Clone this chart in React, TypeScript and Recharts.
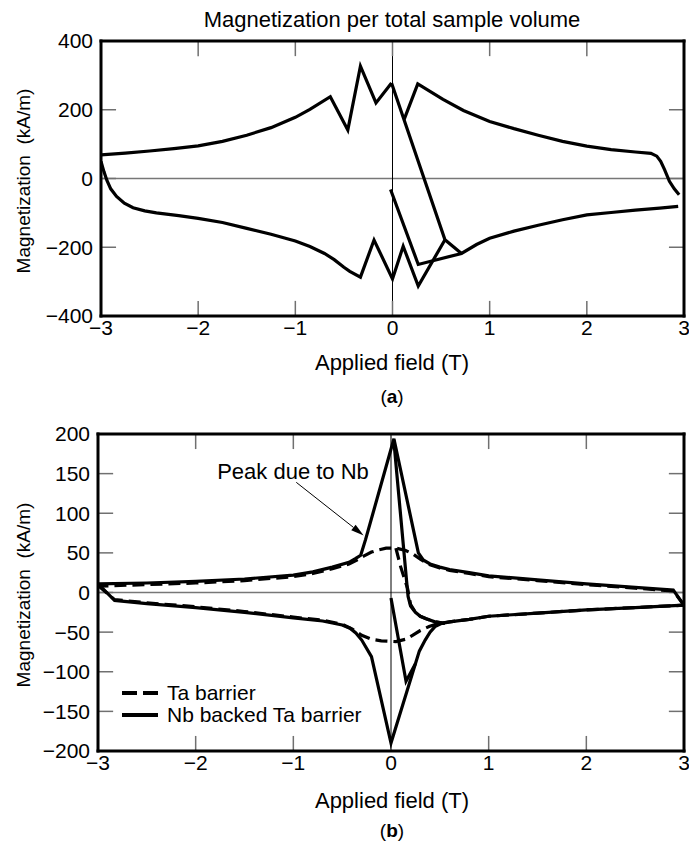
import React from "react";
import { LineChart, Line, XAxis, YAxis, ReferenceLine } from "recharts";

type Pt = [number, number];

const FONT = "'Liberation Sans', Arial, Helvetica, sans-serif";

const fieldTicks = [-3, -2, -1, 0, 1, 2, 3];
const magTicksA = [-400, -200, 0, 200, 400];
const magTicksB = [-200, -150, -100, -50, 0, 50, 100, 150, 200];

// (a) magnetization per total sample volume, one loop cut into pieces
const aUpperRight: Pt[] = [
  [2.95, -47], [2.9, -30], [2.85, -8], [2.8, 26], [2.76, 50], [2.72, 65], [2.66, 73],
  [2.5, 77], [2.25, 84], [2.0, 94], [1.75, 108], [1.5, 126], [1.25, 145], [1.0, 166],
  [0.73, 198], [0.52, 230], [0.26, 275], [0.12, 172],
];
const aUpperLeft: Pt[] = [
  [-0.01, 278], [-0.17, 220], [-0.33, 327], [-0.46, 141], [-0.64, 238], [-0.85, 201],
  [-1.0, 178], [-1.25, 148], [-1.5, 126], [-1.75, 108], [-2.0, 95], [-2.25, 87],
  [-2.5, 80], [-2.75, 74], [-3.0, 69],
];
const aSteep: Pt[] = [[-0.01, 278], [0.54, -178], [0.71, -218]];
const aLowerLeft: Pt[] = [
  [-3.0, 50], [-2.97, 20], [-2.94, -5], [-2.9, -30], [-2.84, -52], [-2.76, -72],
  [-2.67, -85], [-2.55, -94], [-2.43, -100], [-2.2, -108], [-2.0, -116], [-1.75, -128],
  [-1.5, -145], [-1.25, -162], [-1.0, -182], [-0.85, -198], [-0.7, -218], [-0.6, -236],
  [-0.5, -258], [-0.44, -270], [-0.33, -287], [-0.19, -179], [0.0, -292], [0.11, -197],
  [0.265, -313], [0.54, -178],
];
const aVirgin: Pt[] = [
  [-0.02, -32], [0.265, -250], [0.71, -218], [0.865, -192], [1.0, -174], [1.25, -153],
  [1.5, -136], [1.75, -120], [2.0, -106], [2.25, -99], [2.5, -92], [2.75, -86], [2.94, -81],
];

// (b) Ta barrier vs Nb backed Ta barrier
const bTaUpper: Pt[] = [
  [3.0, -16], [2.89, 2], [2.5, 5.5], [2.0, 10], [1.5, 15], [1.0, 20], [0.8, 24], [0.6, 28],
  [0.5, 31], [0.4, 35], [0.3, 42], [0.22, 49], [0.15, 53], [0.05, 56], [-0.05, 56],
  [-0.12, 54], [-0.2, 51], [-0.28, 46], [-0.35, 41], [-0.43, 36], [-0.6, 30], [-0.8, 24],
  [-1.0, 20], [-1.5, 15], [-2.0, 12], [-2.5, 10], [-3.0, 8],
];
const bTaInner: Pt[] = [
  [0.05, 56], [0.1, 32], [0.17, 5], [0.2, -15], [0.25, -25], [0.3, -30], [0.36, -33],
  [0.45, -37], [0.55, -39],
];
const bTaLower: Pt[] = [
  [-3.0, 9], [-2.83, -9], [-2.5, -13], [-2.0, -18], [-1.5, -24], [-1.0, -31], [-0.7, -35],
  [-0.5, -40], [-0.4, -46], [-0.3, -54], [-0.2, -59], [-0.1, -61], [0.05, -62], [0.15, -59],
  [0.22, -54], [0.3, -48], [0.39, -43], [0.49, -39], [0.6, -37], [0.8, -34], [1.0, -30],
  [1.5, -26], [2.0, -22], [2.5, -19], [3.0, -16],
];
const bNbUpper: Pt[] = [
  [3.0, -16], [2.89, 3], [2.5, 6.5], [2.0, 11], [1.5, 16], [1.0, 21], [0.8, 25], [0.6, 29],
  [0.5, 32], [0.4, 36], [0.33, 41], [0.28, 50], [0.03, 194], [-0.26, 67], [-0.31, 47],
  [-0.36, 43], [-0.43, 38], [-0.6, 32], [-0.8, 26], [-1.0, 22], [-1.5, 17], [-2.0, 14],
  [-2.5, 12], [-3.0, 11],
];
const bNbLower: Pt[] = [
  [-3.0, 11], [-2.83, -10], [-2.5, -14], [-2.0, -19], [-1.5, -25], [-1.0, -32], [-0.7, -36],
  [-0.5, -41], [-0.42, -45], [-0.36, -51], [-0.3, -60], [-0.2, -81], [0.0, -190], [0.29, -74],
  [0.35, -60], [0.4, -50], [0.45, -43], [0.52, -39], [0.6, -37], [0.8, -34], [1.0, -30],
  [1.5, -26], [2.0, -22], [2.5, -19], [3.0, -16],
];
const bNbInner: Pt[] = [
  [0.03, 190], [0.16, 14], [0.175, -5], [0.2, -17], [0.25, -25], [0.3, -30], [0.36, -33],
  [0.45, -37], [0.55, -39],
];
const bNbVirgin: Pt[] = [[0.0, -7], [0.154, -112], [0.25, -90]];

const peakArrow: Pt[] = [[-0.97, 139], [-0.28, 72]];
const legendNames = ["Ta barrier", "Nb backed Ta barrier"];
const legendDash = ["15 6", undefined];

const rows = (pts: Pt[]) => pts.map(([x, y]) => ({ x, y }));
const fmt = (v: number) => (v < 0 ? "\u2212" + Math.abs(v) : String(v));

const tickFont = { fill: "#000", fontSize: 21, fontFamily: FONT };
const frameLine = { stroke: "#000", strokeWidth: 3, strokeLinecap: "square" as const };

// custom shape: the default segment renderer drew nothing here
const tickShape = (p: any) => (
  <line x1={p.x1} y1={p.y1} x2={p.x2} y2={p.y2} stroke="#707070" strokeWidth={1.5} />
);

// inward tick marks on all four sides, as short reference segments in data units
function tickMarks(yTicks: number[], yDomain: [number, number], lenX: number, lenY: number) {
  const [y0, y1] = yDomain;
  const segs: { x: number; y: number }[][] = [];
  fieldTicks.slice(1, -1).forEach((x) => {
    segs.push([{ x, y: y0 }, { x, y: y0 + lenY }]);
    segs.push([{ x, y: y1 }, { x, y: y1 - lenY }]);
  });
  yTicks.slice(1, -1).forEach((y) => {
    segs.push([{ x: -3, y }, { x: -3 + lenX, y }]);
    segs.push([{ x: 3, y }, { x: 3 - lenX, y }]);
  });
  return segs.map((s, i) => (
    <ReferenceLine key={"tk" + i} xAxisId="lab" yAxisId="lab" segment={s}
      ifOverflow="visible" shape={tickShape} />
  ));
}

function frame(yTicks: number[], yDomain: [number, number], yW: number, xH: number) {
  return [
    <XAxis key="xl" xAxisId="lab" type="number" dataKey="x" domain={[-3, 3]} allowDataOverflow
      ticks={fieldTicks} interval={0} height={xH} axisLine={frameLine} tickLine={false}
      tickSize={0} tickMargin={4} tick={tickFont} tickFormatter={fmt} />,
    <XAxis key="xt" xAxisId="top" orientation="top" type="number" dataKey="x" domain={[-3, 3]}
      allowDataOverflow height={10} axisLine={frameLine} tickLine={false} tick={false} />,
    <YAxis key="yl" yAxisId="lab" type="number" domain={yDomain} allowDataOverflow ticks={yTicks}
      interval={0} width={yW} axisLine={frameLine} tickLine={false} tickSize={0}
      tickMargin={8} tick={tickFont} tickFormatter={fmt} />,
    <YAxis key="yr" yAxisId="right" orientation="right" type="number" domain={yDomain}
      allowDataOverflow width={5} axisLine={frameLine} tickLine={false} tick={false} />,
    <ReferenceLine key="h0" xAxisId="lab" yAxisId="lab" y={0} stroke="#777" strokeWidth={1.5} />,
    <ReferenceLine key="v0" xAxisId="lab" yAxisId="lab" x={0} stroke="#000" strokeWidth={1} />,
  ];
}

function curve(key: string, pts: Pt[], dash?: string, w = 3.2) {
  return (
    <Line key={key} xAxisId="lab" yAxisId="lab" data={rows(pts)} dataKey="y" type="linear"
      stroke="#000" strokeWidth={w} strokeDasharray={dash} dot={false} activeDot={false}
      isAnimationActive={false} />
  );
}

const arrowShape = (p: any) => {
  const { x1, y1, x2, y2 } = p;
  const a = Math.atan2(y2 - y1, x2 - x1);
  const L = 13;
  const W = 3.5;
  const bx = x2 - L * Math.cos(a);
  const by = y2 - L * Math.sin(a);
  const nx = -Math.sin(a) * W;
  const ny = Math.cos(a) * W;
  return (
    <g>
      <line x1={x1} y1={y1} x2={bx} y2={by} stroke="#000" strokeWidth={1} />
      <polygon points={`${x2},${y2} ${bx + nx},${by + ny} ${bx - nx},${by - ny}`} fill="#000" />
    </g>
  );
};

const abs = (s: React.CSSProperties): React.CSSProperties => ({
  position: "absolute",
  whiteSpace: "nowrap",
  color: "#000",
  fontFamily: FONT,
  lineHeight: 1,
  ...s,
});

export default function App() {
  return (
    <div style={{ position: "absolute", left: 0, top: 0, width: 689, height: 841, background: "#fff" }}>
      <div style={abs({ left: 392, top: 20, fontSize: 22, transform: "translate(-50%,-50%)" })}>
        Magnetization per total sample volume
      </div>
      <div style={{ position: "absolute", left: 0, top: 0 }}>
        <LineChart width={689} height={420} margin={{ top: 31, right: 0, bottom: 0, left: 0 }}>
          {frame(magTicksA, [-400, 400], 101, 104)}
          {tickMarks(magTicksA, [-400, 400], 0.155, 44)}
          {curve("a1", aUpperRight)}
          {curve("a2", aUpperLeft)}
          {curve("a3", aSteep)}
          {curve("a4", aLowerLeft)}
          {curve("a5", aVirgin)}
        </LineChart>
      </div>
      <div style={abs({ left: 23, top: 181, fontSize: 19, transform: "translate(-50%,-50%) rotate(-90deg)" })}>
        Magnetization&nbsp; (kA/m)
      </div>
      <div style={abs({ left: 392, top: 363, fontSize: 22, transform: "translate(-50%,-50%)" })}>
        Applied field (T)
      </div>
      <div style={abs({ left: 392, top: 396, fontSize: 19, transform: "translate(-50%,-50%)" })}>
        (<b>a</b>)
      </div>

      <div style={{ position: "absolute", left: 0, top: 420 }}>
        <LineChart width={689} height={421} margin={{ top: 4, right: 0, bottom: 0, left: 0 }}>
          {frame(magTicksB, [-200, 200], 98, 90)}
          {tickMarks(magTicksB, [-200, 200], 0.155, 19)}
          {curve("t1", bTaUpper, "12 6")}
          {curve("t2", bTaInner, "12 6")}
          {curve("t3", bTaLower, "12 6")}
          {curve("n1", bNbUpper)}
          {curve("n2", bNbLower)}
          {curve("n3", bNbInner)}
          {curve("n4", bNbVirgin)}
          <ReferenceLine xAxisId="lab" yAxisId="lab" ifOverflow="visible"
            segment={peakArrow.map(([x, y]) => ({ x, y }))} shape={arrowShape} />
        </LineChart>
      </div>
      <div style={abs({ left: 23, top: 595, fontSize: 19, transform: "translate(-50%,-50%) rotate(-90deg)" })}>
        Magnetization&nbsp; (kA/m)
      </div>
      <div style={abs({ left: 293, top: 472, fontSize: 22, transform: "translate(-50%,-50%)" })}>
        Peak due to Nb
      </div>
      <div style={{ position: "absolute", left: 118, top: 682 }}>
        {legendNames.map((name, i) => (
          <div key={name} style={{ display: "flex", alignItems: "center", height: 22 }}>
            <svg width={44} height={10}>
              <line x1={4} y1={5} x2={40} y2={5} stroke="#000" strokeWidth={4}
                strokeDasharray={legendDash[i]} />
            </svg>
            <span style={{ fontFamily: FONT, fontSize: 21, lineHeight: "20px", marginLeft: 5 }}>{name}</span>
          </div>
        ))}
      </div>
      <div style={abs({ left: 392, top: 801, fontSize: 22, transform: "translate(-50%,-50%)" })}>
        Applied field (T)
      </div>
      <div style={abs({ left: 392, top: 830, fontSize: 19, transform: "translate(-50%,-50%)" })}>
        (<b>b</b>)
      </div>
    </div>
  );
}
